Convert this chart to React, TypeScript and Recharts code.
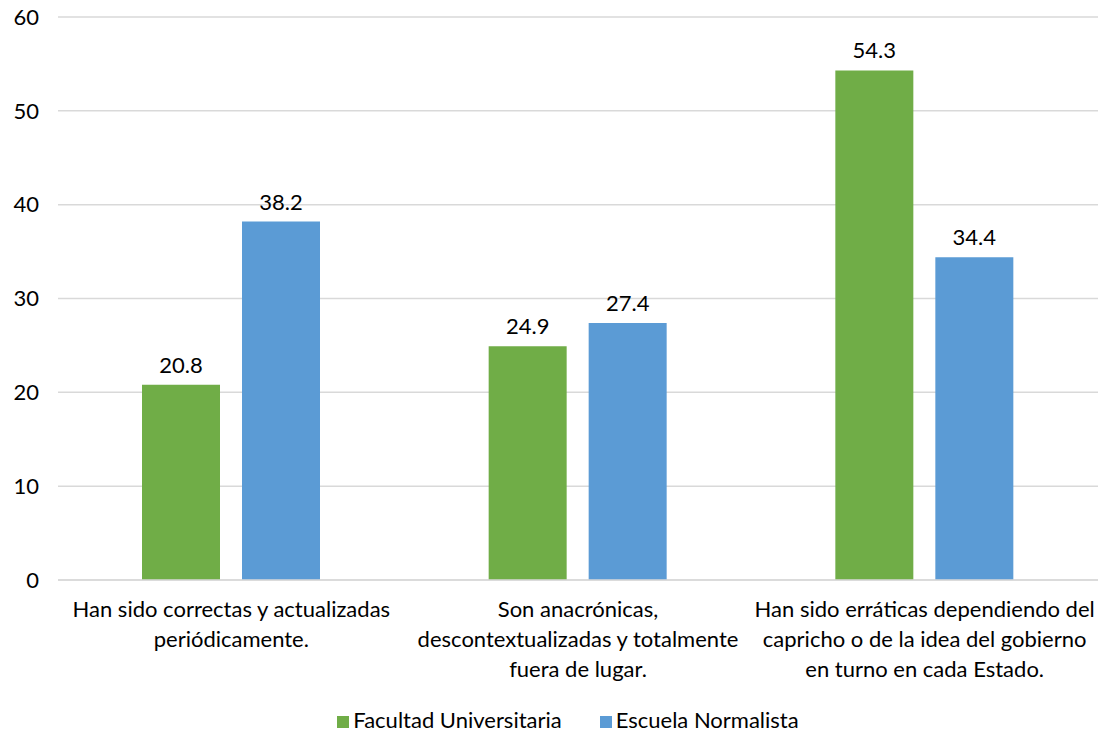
import { BarChart, Bar, XAxis, YAxis, CartesianGrid, Legend, LabelList } from "recharts";

const categories = [
  "Han sido correctas y actualizadas\nperiódicamente.",
  "Son anacrónicas,\ndescontextualizadas y totalmente\nfuera de lugar.",
  "Han sido erráticas dependiendo del\ncapricho o de la idea del gobierno\nen turno en cada Estado.",
];
const facultad = [20.8, 24.9, 54.3];
const normalista = [38.2, 27.4, 34.4];
const yTicks = [0, 10, 20, 30, 40, 50, 60];

const FONT = "Lato, 'Liberation Sans', sans-serif";
const FS = 22;

const data = categories.map((c, i) => ({ cat: c, facultad: facultad[i], normalista: normalista[i] }));

function CatTick({ x, y, payload }: any) {
  const lines = String(payload.value).split("\n");
  return (
    <text x={x} y={y} textAnchor="middle" fill="#000" fontSize={FS} fontFamily={FONT}>
      {lines.map((l, i) => (
        <tspan key={i} x={x} dy={i === 0 ? 29 : 30}>{l}</tspan>
      ))}
    </text>
  );
}

export default function App() {
  return (
    <div style={{ position: "absolute", left: 0, top: 0, background: "#fff" }}>
      <BarChart
        width={1104}
        height={736}
        data={data}
        margin={{ top: 17, right: 6, left: 0, bottom: 0 }}
        barSize={78}
        barGap={22}
      >
        <CartesianGrid vertical={false} stroke="#D9D9D9" strokeWidth={1.5} />
        <XAxis
          dataKey="cat"
          tick={<CatTick />}
          tickLine={false}
          axisLine={{ stroke: "#D9D9D9", strokeWidth: 1.5 }}
          height={126}
          interval={0}
        />
        <YAxis
          domain={[0, 60]}
          ticks={yTicks}
          width={58}
          tickLine={false}
          axisLine={false}
          tickMargin={13}
          tick={{ fill: "#000", fontSize: FS, fontFamily: FONT }}
        />
        <Legend
          verticalAlign="bottom"
          iconType="square"
          iconSize={12}
          height={30}
          itemSorter="dataKey"
          wrapperStyle={{ fontFamily: FONT, fontSize: FS, paddingLeft: 76, boxSizing: "border-box" }}
          formatter={(v) => <span style={{ color: "#000", marginRight: 28 }}>{v}</span>}
        />
        <Bar dataKey="facultad" name="Facultad Universitaria" fill="#70AD47" isAnimationActive={false}>
          <LabelList dataKey="facultad" position="top" offset={12} fill="#000" fontSize={FS} fontFamily={FONT} />
        </Bar>
        <Bar dataKey="normalista" name="Escuela Normalista" fill="#5B9BD5" isAnimationActive={false}>
          <LabelList dataKey="normalista" position="top" offset={12} fill="#000" fontSize={FS} fontFamily={FONT} />
        </Bar>
      </BarChart>
    </div>
  );
}
